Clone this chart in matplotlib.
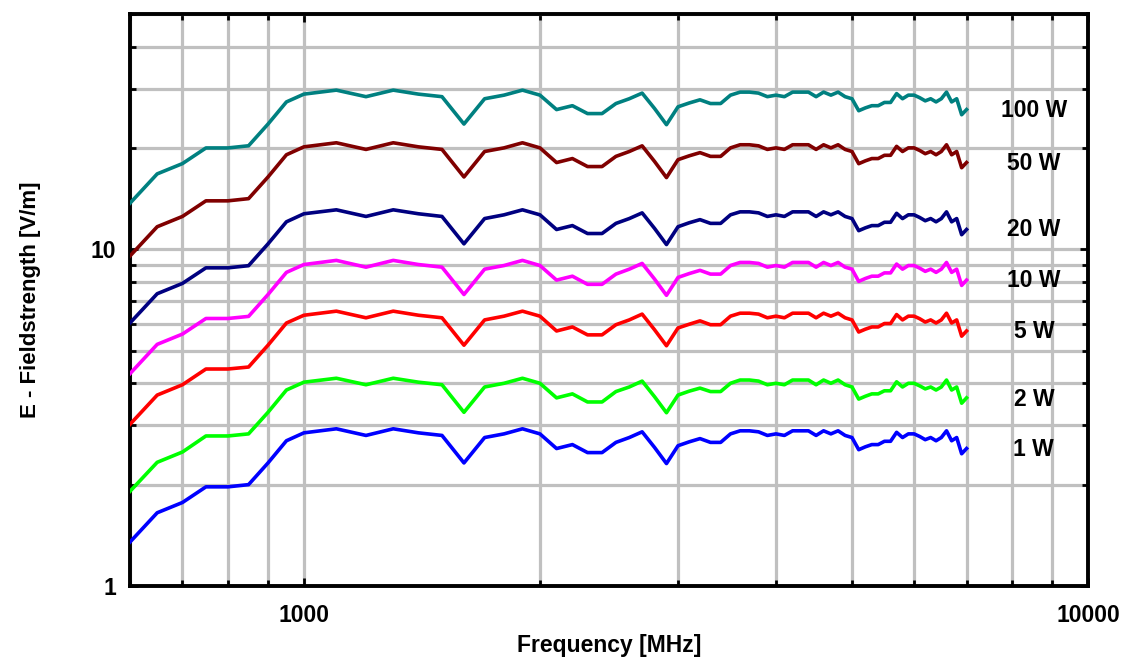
import numpy as np
import matplotlib.pyplot as plt
from matplotlib.ticker import LogLocator, NullFormatter, FixedLocator, FixedFormatter

plt.rcParams['font.family'] = ['Liberation Sans', 'DejaVu Sans']
plt.rcParams['font.weight'] = 'bold'

# frequency sweep [MHz]
freq = [600, 650, 700, 750, 800, 850, 900, 950, 1000,
        1100, 1200, 1300, 1400, 1500, 1600, 1700, 1800, 1900, 2000,
        2100, 2200, 2300, 2400, 2500, 2600, 2700, 2800, 2900, 3000,
        3100, 3200, 3300, 3400, 3500, 3600, 3700, 3800, 3900, 4000,
        4100, 4200, 4300, 4400, 4500, 4600, 4700, 4800, 4900, 5000,
        5100, 5200, 5300, 5400, 5500, 5600, 5700, 5800, 5900, 6000,
        6100, 6200, 6300, 6400, 6500, 6600, 6700, 6800, 6900, 7000]

# field strength [V/m] per transmit power
e_1w = [1.35, 1.65, 1.77, 1.97, 1.97, 2.00, 2.32, 2.70, 2.85,
        2.93, 2.80, 2.93, 2.85, 2.80, 2.32, 2.76, 2.83, 2.93, 2.83,
        2.56, 2.63, 2.49, 2.49, 2.67, 2.76, 2.87, 2.58, 2.31, 2.61,
        2.68, 2.74, 2.67, 2.67, 2.83, 2.89, 2.89, 2.87, 2.80, 2.83,
        2.80, 2.89, 2.89, 2.89, 2.80, 2.89, 2.83, 2.89, 2.80, 2.76,
        2.54, 2.59, 2.63, 2.63, 2.69, 2.69, 2.86, 2.76, 2.83, 2.83,
        2.78, 2.72, 2.76, 2.70, 2.76, 2.89, 2.70, 2.76, 2.47, 2.56]
e_2w = [1.91, 2.33, 2.50, 2.79, 2.79, 2.83, 3.28, 3.82, 4.03,
        4.14, 3.96, 4.14, 4.03, 3.96, 3.28, 3.90, 4.00, 4.14, 4.00,
        3.62, 3.72, 3.52, 3.52, 3.78, 3.90, 4.06, 3.65, 3.27, 3.69,
        3.79, 3.87, 3.78, 3.78, 4.00, 4.09, 4.09, 4.06, 3.96, 4.00,
        3.96, 4.09, 4.09, 4.09, 3.96, 4.09, 4.00, 4.09, 3.96, 3.90,
        3.59, 3.66, 3.72, 3.72, 3.80, 3.80, 4.04, 3.90, 4.00, 4.00,
        3.93, 3.85, 3.90, 3.82, 3.90, 4.09, 3.82, 3.90, 3.49, 3.62]
e_5w = [3.02, 3.69, 3.96, 4.41, 4.41, 4.47, 5.19, 6.04, 6.37,
        6.55, 6.26, 6.55, 6.37, 6.26, 5.19, 6.17, 6.33, 6.55, 6.33,
        5.72, 5.88, 5.57, 5.57, 5.97, 6.17, 6.42, 5.77, 5.17, 5.84,
        5.99, 6.13, 5.97, 5.97, 6.33, 6.46, 6.46, 6.42, 6.26, 6.33,
        6.26, 6.46, 6.46, 6.46, 6.26, 6.46, 6.33, 6.46, 6.26, 6.17,
        5.68, 5.79, 5.88, 5.88, 6.02, 6.02, 6.40, 6.17, 6.33, 6.33,
        6.22, 6.08, 6.17, 6.04, 6.17, 6.46, 6.04, 6.17, 5.52, 5.72]
e_10w = [4.27, 5.22, 5.60, 6.23, 6.23, 6.32, 7.34, 8.54, 9.01,
         9.27, 8.85, 9.27, 9.01, 8.85, 7.34, 8.73, 8.95, 9.27, 8.95,
         8.10, 8.32, 7.87, 7.87, 8.44, 8.73, 9.08, 8.16, 7.30, 8.25,
         8.47, 8.66, 8.44, 8.44, 8.95, 9.14, 9.14, 9.08, 8.85, 8.95,
         8.85, 9.14, 9.14, 9.14, 8.85, 9.14, 8.95, 9.14, 8.85, 8.73,
         8.03, 8.19, 8.32, 8.32, 8.51, 8.51, 9.04, 8.73, 8.95, 8.95,
         8.79, 8.60, 8.73, 8.54, 8.73, 9.14, 8.54, 8.73, 7.81, 8.10]
e_20w = [6.04, 7.38, 7.92, 8.81, 8.81, 8.94, 10.38, 12.07, 12.75,
         13.10, 12.52, 13.10, 12.75, 12.52, 10.38, 12.34, 12.66, 13.10, 12.66,
         11.45, 11.76, 11.14, 11.14, 11.94, 12.34, 12.83, 11.54, 10.33, 11.67,
         11.99, 12.25, 11.94, 11.94, 12.66, 12.92, 12.92, 12.83, 12.52, 12.66,
         12.52, 12.92, 12.92, 12.92, 12.52, 12.92, 12.66, 12.92, 12.52, 12.34,
         11.36, 11.58, 11.76, 11.76, 12.03, 12.03, 12.79, 12.34, 12.66, 12.66,
         12.43, 12.16, 12.34, 12.07, 12.34, 12.92, 12.07, 12.34, 11.05, 11.45]
e_50w = [9.55, 11.67, 12.52, 13.93, 13.93, 14.14, 16.40, 19.09, 20.15,
         20.72, 19.80, 20.72, 20.15, 19.80, 16.40, 19.52, 20.01, 20.72, 20.01,
         18.10, 18.60, 17.61, 17.61, 18.88, 19.52, 20.29, 18.24, 16.33, 18.46,
         18.95, 19.37, 18.88, 18.88, 20.01, 20.44, 20.44, 20.29, 19.80, 20.01,
         19.80, 20.44, 20.44, 20.44, 19.80, 20.44, 20.01, 20.44, 19.80, 19.52,
         17.96, 18.31, 18.60, 18.60, 19.02, 19.02, 20.22, 19.52, 20.01, 20.01,
         19.66, 19.23, 19.52, 19.09, 19.52, 20.44, 19.09, 19.52, 17.47, 18.10]
e_100w = [13.7, 16.75, 17.97, 20.0, 20.0, 20.3, 23.55, 27.4, 28.9,
          29.7, 28.4, 29.7, 28.9, 28.4, 23.55, 28.0, 28.7, 29.7, 28.7,
          26.0, 26.7, 25.3, 25.3, 27.1, 28.0, 29.1, 26.2, 23.45, 26.5,
          27.2, 27.8, 27.1, 27.1, 28.7, 29.3, 29.3, 29.1, 28.4, 28.7,
          28.4, 29.3, 29.3, 29.3, 28.4, 29.3, 28.7, 29.3, 28.4, 28.0,
          25.8, 26.3, 26.7, 26.7, 27.3, 27.3, 29.0, 28.0, 28.7, 28.7,
          28.2, 27.6, 28.0, 27.4, 28.0, 29.3, 27.4, 28.0, 25.1, 26.0]

labels = ['100 W', '50 W', '20 W', '10 W', '5 W', '2 W', '1 W']
series = [e_100w, e_50w, e_20w, e_10w, e_5w, e_2w, e_1w]
colors = ['#008080', '#800000', '#000080', '#ff00ff', '#ff0000', '#00ff00', '#0000ff']
# where the power labels sit (data coords)
label_x = 8530
label_y = [25.8, 18.0, 11.47, 8.09, 5.71, 3.58, 2.54]

fig = plt.figure(figsize=(11.29, 6.59), dpi=100)
ax = fig.add_axes([0.1151, 0.1108, 0.8486, 0.868])

for vals, c in zip(series, colors):
    ax.plot(freq, vals, color=c, lw=2.6, zorder=3)

for lab, ly in zip(labels, label_y):
    ax.text(label_x, ly, lab, ha='center', va='center', fontsize=16.5, fontweight='bold')

ax.set_xscale('log')
ax.set_yscale('log')
ax.set_xlim(600, 10000)
ax.set_ylim(1, 50)

ax.xaxis.set_major_locator(FixedLocator([1000, 10000]))
ax.xaxis.set_major_formatter(FixedFormatter(['1000', '10000']))
ax.xaxis.set_minor_locator(LogLocator(base=10, subs=np.arange(2, 10)))
ax.xaxis.set_minor_formatter(NullFormatter())
ax.yaxis.set_major_locator(FixedLocator([1, 10]))
ax.yaxis.set_major_formatter(FixedFormatter(['1', '10']))
ax.yaxis.set_minor_locator(LogLocator(base=10, subs=np.arange(2, 10)))
ax.yaxis.set_minor_formatter(NullFormatter())

ax.grid(True, which='both', color='#c0c0c0', lw=2.3, zorder=0)
ax.set_axisbelow(True)

ax.tick_params(which='both', direction='in', top=True, right=True, width=2, color='black')
ax.tick_params(which='major', length=6)
ax.tick_params(which='minor', length=4)
ax.tick_params(axis='y', pad=10, labelsize=16.5)
ax.tick_params(axis='x', pad=13, labelsize=16.5)
for s in ax.spines.values():
    s.set_linewidth(2.8)
    s.set_color('black')

ax.set_xlabel('Frequency [MHz]', fontsize=16.5, fontweight='bold', labelpad=5)
ax.set_ylabel('E - Fieldstrength [V/m]', fontsize=16, fontweight='bold', labelpad=36)

plt.savefig('out.png', dpi=100)
plt.close(fig)
